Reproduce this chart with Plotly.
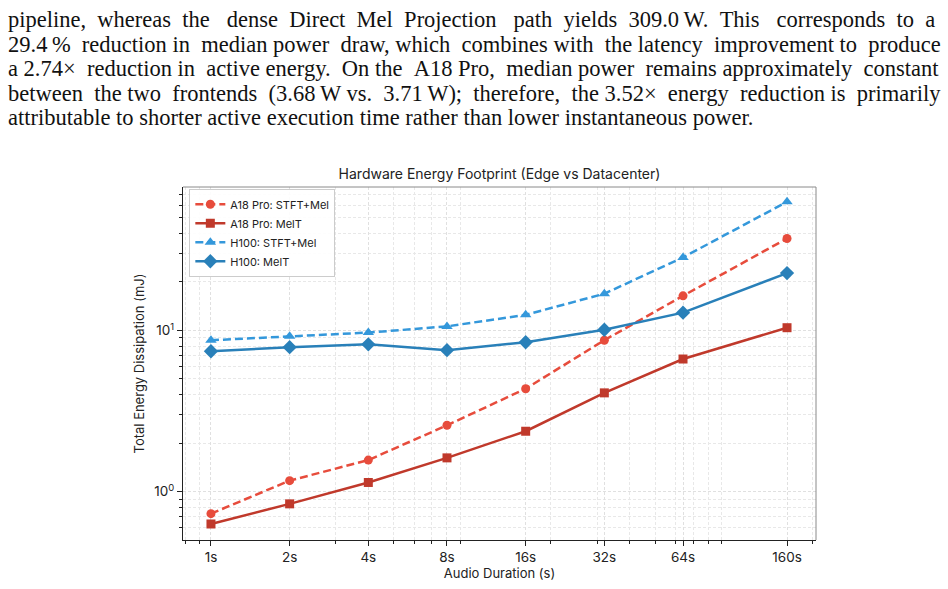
import plotly.graph_objects as go

# ---- data ----
durations = [1, 2, 4, 8, 16, 32, 64, 160]
duration_labels = ["1s", "2s", "4s", "8s", "16s", "32s", "64s", "160s"]
a18_stft = [0.73, 1.17, 1.57, 2.58, 4.35, 8.7, 16.4, 37.2]
a18_melt = [0.63, 0.84, 1.14, 1.62, 2.37, 4.1, 6.65, 10.4]
h100_stft = [8.7, 9.2, 9.7, 10.6, 12.5, 16.9, 28.4, 62.8]
h100_melt = [7.43, 7.87, 8.2, 7.55, 8.45, 10.1, 12.9, 22.7]

paragraph = [
    "pipeline, whereas the dense Direct Mel Projection path yields 309.0\u2009W. This corresponds to a",
    "29.4\u2009% reduction in median power draw, which combines with the latency improvement to produce",
    "a 2.74\u00d7 reduction in active energy. On the A18 Pro, median power remains approximately constant",
    "between the two frontends (3.68\u2009W vs. 3.71\u2009W); therefore, the 3.52\u00d7 energy reduction is primarily",
    "attributable to shorter active execution time rather than lower instantaneous power.",
]
# number of extra spaces used to justify each line
para_extra = [16, 7, 7, 9, 0]

W, H = 948, 589
L, R, T, B = 183, 816, 187, 544

series = [
    ("A18 Pro: STFT+Mel", a18_stft, "#e74c3c", "8px,4px", "circle", 9),
    ("A18 Pro: MelT", a18_melt, "#c0392b", "solid", "square", 9),
    ("H100: STFT+Mel", h100_stft, "#3498db", "8px,4px", "triangle-up", 10),
    ("H100: MelT", h100_melt, "#2980b9", "solid", "diamond", 11),
]

fig = go.Figure()
for name, ys, col, dash, sym, ms in series:
    fig.add_trace(go.Scatter(
        x=durations, y=ys, name=name, mode="lines+markers",
        line=dict(color=col, width=2.5, dash=dash),
        marker=dict(symbol=sym, size=ms, color=col),
    ))

font_sans = "Inter, Roboto, sans-serif"
grid_major = "#e0e0e0"
grid_minor = "#e8e8e8"

fig.update_layout(
    width=W, height=H,
    margin=dict(l=L, r=W - R, t=T, b=H - B),
    paper_bgcolor="white", plot_bgcolor="white",
    font=dict(family=font_sans, color="#222", size=12),
    showlegend=True,
    legend=dict(
        x=0.01, y=0.995, xanchor="left", yanchor="top",
        bgcolor="rgba(255,255,255,0.9)", bordercolor="#cccccc", borderwidth=1,
        font=dict(size=11, family=font_sans), itemwidth=30, tracegroupgap=0,
    ),
    title=dict(
        text="Hardware Energy Footprint (Edge vs Datacenter)",
        x=(L + R) / 2 / W, xanchor="center", y=1 - 174 / H, yanchor="middle",
        font=dict(size=14, family=font_sans, color="#222"),
    ),
    shapes=[
        dict(type="line", xref="paper", yref="paper", x0=0, x1=1, y0=1, y1=1,
             line=dict(color="#8a8a8a", width=1)),
        dict(type="line", xref="paper", yref="paper", x0=1, x1=1, y0=0, y1=1,
             line=dict(color="#8a8a8a", width=1)),
    ],
)

fig.update_xaxes(
    type="log", range=[-0.107, 2.315],
    tickvals=durations, ticktext=duration_labels,
    ticks="outside", ticklen=5, tickcolor="#222",
    tickfont=dict(size=13.5),
    showline=True, linecolor="#222", linewidth=1.2, mirror=False,
    showgrid=True, gridcolor=grid_major, griddash="3px,2px", gridwidth=1,
    zeroline=False,
    title=dict(text="Audio Duration (s)", font=dict(size=13), standoff=3),
    minor=dict(
        tickvals=[0.8, 0.9, 3, 5, 6, 7, 9, 20, 30, 40, 50, 60, 70, 80, 90, 200],
        ticks="outside", ticklen=3, tickcolor="#222",
        showgrid=True, gridcolor=grid_minor, griddash="3px,2px", gridwidth=1,
    ),
)

fig.update_yaxes(
    type="log", range=[-0.30, 1.89],
    tickvals=[1, 10], ticktext=["10<sup>0</sup>", "10<sup>1</sup>"],
    ticks="outside", ticklen=5, tickcolor="#222",
    tickfont=dict(size=13.5),
    showline=True, linecolor="#222", linewidth=1.2, mirror=False,
    showgrid=True, gridcolor=grid_major, griddash="3px,2px", gridwidth=1,
    zeroline=False,
    title=dict(text="Total Energy Dissipation (mJ)", font=dict(size=13), standoff=6),
    minor=dict(
        tickvals=[0.5, 0.6, 0.7, 0.8, 0.9, 2, 3, 4, 5, 6, 7, 8, 9, 20, 30, 40, 50, 60, 70],
        ticks="outside", ticklen=3, tickcolor="#222",
        showgrid=True, gridcolor=grid_minor, griddash="3px,2px", gridwidth=1,
    ),
)

def px_x(p):
    return (p - L) / (R - L)

def px_y(p):
    return (B - p) / (B - T)

def justify(text, extra):
    words = text.split(" ")
    gaps = len(words) - 1
    if extra <= 0 or gaps <= 0:
        return text
    counts = [0] * gaps
    for k in range(extra):
        counts[int((k + 0.5) * gaps / extra) % gaps] += 1
    out = words[0]
    for g in range(gaps):
        out += " " + "\u00a0" * counts[g] + words[g + 1]
    return out

line_ys = [18, 43, 67, 92, 117]
for txt, extra, yy in zip(paragraph, para_extra, line_ys):
    fig.add_annotation(
        text=justify(txt, extra), xref="paper", yref="paper",
        x=px_x(6), y=px_y(yy), xanchor="left", yanchor="middle",
        showarrow=False,
        font=dict(family="Liberation Serif, DejaVu Serif, serif", size=22.5, color="#111"),
    )

fig.write_html("out.html")
